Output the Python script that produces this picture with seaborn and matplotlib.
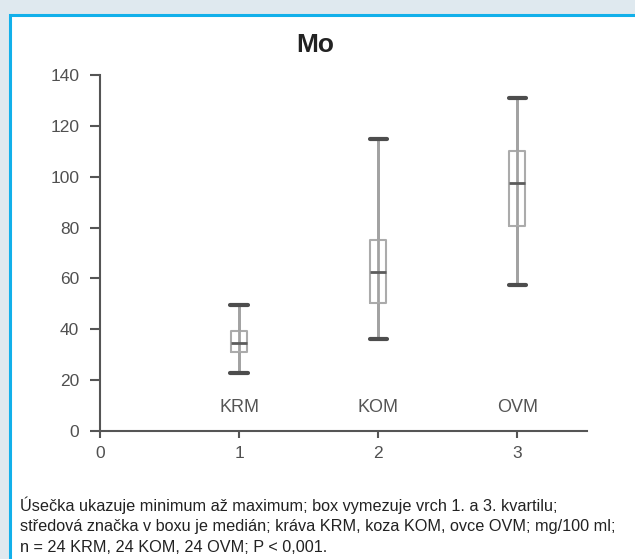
import matplotlib
matplotlib.use("Agg")
import matplotlib.pyplot as plt
import seaborn as sns
import pandas as pd
from matplotlib.patches import Rectangle

title = "Mo"
groups = ["KRM", "KOM", "OVM"]
positions = [1, 2, 3]
mins = [23.0, 36.0, 57.5]
q1s = [31.0, 50.5, 80.5]
medians = [34.5, 62.5, 97.5]
q3s = [39.5, 75.0, 110.0]
maxs = [49.5, 115.0, 131.0]
yticks = [0, 20, 40, 60, 80, 100, 120, 140]
xticks = [0, 1, 2, 3]
caption_lines = [
    "Úsečka ukazuje minimum až maximum; box vymezuje vrch 1. a 3. kvartilu;",
    "středová značka v boxu je medián; kráva KRM, koza KOM, ovce OVM; mg/100 ml;",
    "n = 24 KRM, 24 KOM, 24 OVM; P < 0,001.",
]

rows = []
for g, p, a, b, c, d, e in zip(groups, positions, mins, q1s, medians, q3s, maxs):
    for v in (a, b, c, d, e):
        rows.append({"group": g, "pos": p, "value": v})
df = pd.DataFrame(rows)

sns.set_style("white")
plt.rcParams['font.family'] = ['Liberation Sans', 'DejaVu Sans']

W, H = 635, 559
fig = plt.figure(figsize=(W / 100, H / 100), dpi=100, facecolor="#dfe9ef")
fig.patches.append(Rectangle((9.5 / W, -0.05), 1.0, 1 - 14.5 / H + 0.05,
                             transform=fig.transFigure, facecolor='white',
                             edgecolor='#12b0ea', linewidth=2.2, zorder=-5))

ax = fig.add_axes([100 / W, (H - 431) / H, 487 / W, 356 / H])
ax.set_facecolor('none')
ax.set_zorder(2)

# full-range line through each box
ax.vlines(positions, mins, maxs, color='#a2a2a2', linewidth=2, zorder=1)

sns.boxplot(data=df, x='pos', y='value', native_scale=True, whis=(0, 100),
            width=0.115, fill=False, showfliers=False, ax=ax,
            capwidths=0.125,
            boxprops=dict(color='#ababab', linewidth=1.5),
            whiskerprops=dict(color='#a2a2a2', linewidth=2),
            capprops=dict(color='#4d4d4d', linewidth=3),
            medianprops=dict(color='#5c5c5c', linewidth=2))

for p, g in zip(positions, groups):
    ax.text(p, 9.4, g, ha='center', va='center', fontsize=13, color='#555555')

ax.set_xlim(0, 3.5)
ax.set_ylim(0, 140)
ax.set_xticks(xticks)
ax.set_xticklabels([str(t) for t in xticks])
ax.set_yticks(yticks)
ax.set_yticklabels([str(t) for t in yticks])
ax.set_xlabel('')
ax.set_ylabel('')
for s in ['top', 'right']:
    ax.spines[s].set_visible(False)
for s in ['left', 'bottom']:
    ax.spines[s].set_color('#555555')
    ax.spines[s].set_linewidth(1.5)
ax.tick_params(axis='both', left=True, bottom=True, direction='out', length=7,
               width=1.5, color='#555555', labelsize=12.5, labelcolor='#505050', pad=8)
ax.tick_params(axis='x', length=5, pad=6)

fig.text(315 / W, 1 - 45 / H, title, ha='center', va='center', fontsize=19,
         fontweight='bold', color='#222222')

for i, line in enumerate(caption_lines):
    fig.text(20 / W, 1 - (505 + 21.5 * i) / H, line, ha='left', va='center',
             fontsize=11.7, color='#222222')

fig.savefig("out.png", dpi=100, facecolor=fig.get_facecolor())
